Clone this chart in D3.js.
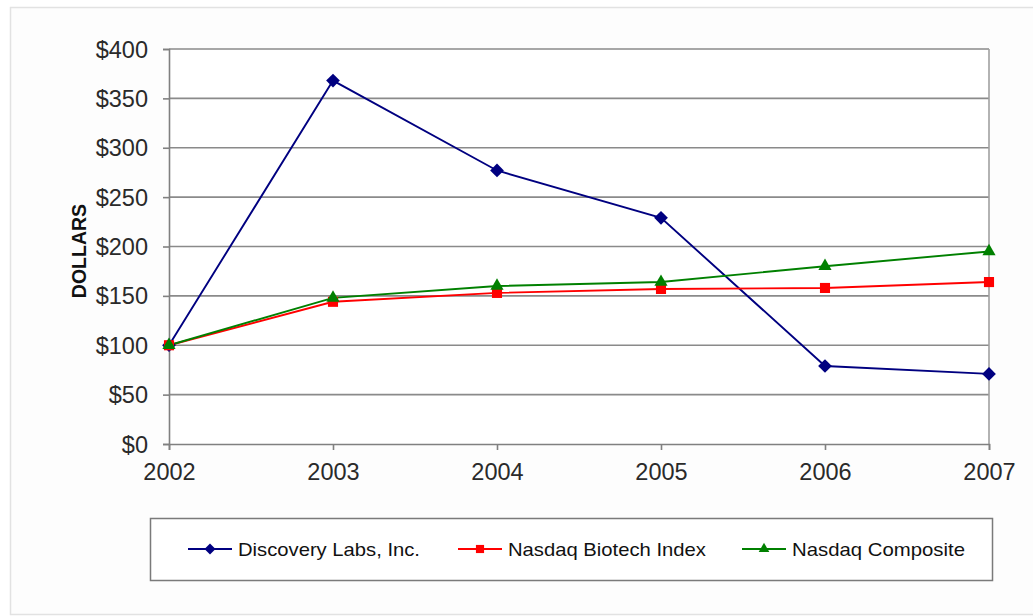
<!DOCTYPE html>
<html><head><meta charset="utf-8">
<script src="https://cdn.jsdelivr.net/npm/d3@7"></script>
<style>
html,body{margin:0;padding:0;background:#fff;}
svg text{font-family:"Liberation Sans",Arial,sans-serif;}
</style></head>
<body>
<svg id="c" width="1033" height="616"></svg>
<script>
const years = ["2002","2003","2004","2005","2006","2007"];
const discovery = [100, 368, 277, 229, 79, 71];
const biotech = [100, 144, 153, 157, 158, 164];
const composite = [100, 148, 160, 164, 180, 195];
const yTicks = [0, 50, 100, 150, 200, 250, 300, 350, 400];
const seriesNames = ["Discovery Labs, Inc.", "Nasdaq Biotech Index", "Nasdaq Composite"];

const series = [
  {name: seriesNames[0], values: discovery, color: "#000080", shape: d3.symbolDiamond2, size: 120},
  {name: seriesNames[1], values: biotech, color: "#ff0000", shape: d3.symbolSquare2, size: 130},
  {name: seriesNames[2], values: composite, color: "#008000", shape: d3.symbolTriangle2, size: 125}
];

const FONT = "'Liberation Sans',Arial,sans-serif";
const svg = d3.select("#c");
// outer frame
svg.append("rect").attr("x",10.5).attr("y",7.5).attr("width",1040).attr("height",607)
  .attr("fill","#fdfdfd").attr("stroke","#e2e2e2").attr("stroke-width",1.5);

const L = 169, R = 989, T = 49, B = 444;
const x = d3.scalePoint().domain(years).range([L, R]);
const y = d3.scaleLinear().domain([0, 400]).range([B, T]);

svg.append("rect").attr("x",L).attr("y",T).attr("width",R-L).attr("height",B-T).attr("fill","#fff");

// gridlines
svg.append("g").selectAll("line").data(yTicks.filter(d=>d>0)).join("line")
  .attr("x1",L).attr("x2",R).attr("y1",d=>y(d)).attr("y2",d=>y(d))
  .attr("stroke","#8a8a8a").attr("stroke-width",1.6);
// right border
svg.append("line").attr("x1",R).attr("x2",R).attr("y1",T).attr("y2",B)
  .attr("stroke","#a0a0a0").attr("stroke-width",1.6);

// y axis
const yAxis = svg.append("g").attr("transform",`translate(${L},0)`)
  .call(d3.axisLeft(y).tickValues(yTicks).tickSize(6).tickPadding(15).tickFormat(d=>"$"+d));
yAxis.select(".domain").attr("stroke","#808080").attr("stroke-width",1.6);
yAxis.selectAll(".tick line").attr("stroke","#808080").attr("stroke-width",1.6);
yAxis.selectAll(".tick text").attr("font-size",23.5).attr("fill","#2a2a2a")
  .attr("font-family",FONT).attr("dy","0.34em");

// x axis
const xAxis = svg.append("g").attr("transform",`translate(0,${B})`)
  .call(d3.axisBottom(x).tickSize(6).tickPadding(13));
xAxis.select(".domain").attr("stroke","#808080").attr("stroke-width",1.6);
xAxis.selectAll(".tick line").attr("stroke","#808080").attr("stroke-width",1.6);
xAxis.selectAll(".tick text").attr("font-size",23.5).attr("fill","#2a2a2a")
  .attr("font-family",FONT);

// y label
svg.append("text").attr("transform","translate(86,251) rotate(-90)")
  .attr("text-anchor","middle").attr("font-size",19.5).attr("font-weight","bold")
  .attr("fill","#111").text("DOLLARS");

// lines
const line = d3.line().x((d,i)=>x(years[i])).y(d=>y(d));
series.forEach(s=>{
  svg.append("path").datum(s.values).attr("d",line).attr("fill","none")
    .attr("stroke",s.color).attr("stroke-width",1.9);
});
// markers
series.forEach(s=>{
  svg.append("g").selectAll("path").data(s.values).join("path")
    .attr("transform",(d,i)=>`translate(${x(years[i])},${y(d)})`)
    .attr("d",d3.symbol().type(s.shape).size(s.size))
    .attr("fill",s.color);
});

// legend
svg.append("rect").attr("x",150.5).attr("y",518.5).attr("width",842).attr("height",62)
  .attr("fill","#fff").attr("stroke","#7a7a7a").attr("stroke-width",1.5);
const legX = [188, 458, 742];
const legW = [182, 198, 173];
series.forEach((s,i)=>{
  const g = svg.append("g").attr("transform",`translate(${legX[i]},549)`);
  g.append("line").attr("x1",0).attr("x2",44).attr("stroke",s.color).attr("stroke-width",2);
  g.append("path").attr("transform","translate(22,0)")
    .attr("d",d3.symbol().type(s.shape).size(s.size*0.65)).attr("fill",s.color);
  g.append("text").attr("x",50).attr("y",7).attr("font-size",19).attr("fill","#111")
    .attr("textLength",legW[i]).attr("lengthAdjust","spacingAndGlyphs").text(s.name);
});
</script>
</body></html>
